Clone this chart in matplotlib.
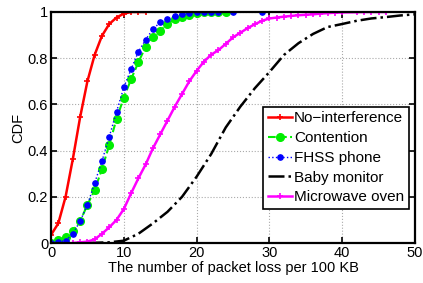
import matplotlib
matplotlib.use("Agg")
import matplotlib.pyplot as plt

plt.rcParams['font.family'] = ['Liberation Sans', 'DejaVu Sans']

red_x = list(range(0, 14))
red_y = [0.035, 0.085, 0.2, 0.364, 0.545, 0.70, 0.815, 0.897, 0.948, 0.976, 0.993, 1.0, 1.0, 1.0]

green_x = list(range(0, 25))
green_y = [0, 0.013, 0.025, 0.053, 0.095, 0.165, 0.23, 0.32, 0.425, 0.537, 0.629, 0.709,
           0.782, 0.85, 0.892, 0.919, 0.948, 0.97, 0.977, 0.987, 0.995, 0.998, 1.0, 1.0, 1.0]

blue_x = list(range(0, 24)) + [25, 29]
blue_y = [0, 0.005, 0.01, 0.04, 0.095, 0.165, 0.26, 0.355, 0.46, 0.568, 0.674, 0.752, 0.828,
          0.88, 0.926, 0.955, 0.97, 0.983, 0.99, 0.995, 0.998, 0.999, 0.999, 0.999, 1.0, 1.0]

black_x = [5, 8, 10, 12, 14, 16, 18, 20, 22, 24, 26, 28, 30, 32, 34, 36, 38, 40, 42, 44, 46, 48, 50, 52]
black_y = [0, 0.003, 0.01, 0.04, 0.085, 0.135, 0.2, 0.287, 0.385, 0.5, 0.59, 0.67, 0.74, 0.814,
           0.865, 0.905, 0.935, 0.948, 0.962, 0.972, 0.978, 0.985, 0.99, 1.0]

mag_x = list(range(3, 41)) + [42, 43, 44, 45, 46]
mag_y = [0, 0.003, 0.006, 0.016, 0.04, 0.068, 0.1, 0.147, 0.215, 0.28, 0.34, 0.41, 0.47, 0.53,
         0.59, 0.645, 0.70, 0.745, 0.785, 0.815, 0.835, 0.862, 0.89, 0.91, 0.93, 0.947, 0.962,
         0.972, 0.976, 0.98, 0.983, 0.986, 0.988, 0.99, 0.993, 0.995, 0.997, 0.998,
         0.999, 1.0, 1.0, 1.0, 1.0]

labels = ["No\u2212interference", "Contention", "FHSS phone", "Baby monitor", "Microwave oven"]

fig = plt.figure(figsize=(4.23, 2.83), dpi=100)
ax = fig.add_axes([0.1206, 0.1413, 0.8604, 0.8163])

ax.plot(red_x, red_y, color='red', lw=1.8, marker='+', ms=4, mew=1.2, label=labels[0])
ax.plot(green_x, green_y, color='#00ee00', lw=1.5, ls='--', marker='o', ms=5.5, mec='#00ee00', label=labels[1])
ax.plot(blue_x, blue_y, color='blue', lw=1.0, ls=':', marker='o', ms=3.8, label=labels[2])
ax.plot(black_x, black_y, color='black', lw=1.8, ls='-.', label=labels[3])
ax.plot(mag_x, mag_y, color='magenta', lw=1.8, marker='+', ms=4, mew=1.2, label=labels[4])

ax.set_xlim(0, 50)
ax.set_ylim(0, 1)
ax.set_xticks([0, 10, 20, 30, 40, 50])
ax.set_yticks([0, 0.2, 0.4, 0.6, 0.8, 1])
ax.set_yticklabels(['0', '0.2', '0.4', '0.6', '0.8', '1'])
ax.tick_params(direction='in', labelsize=10.5, length=4, width=1.2, top=True, right=True, pad=2)
ax.grid(True, ls=':', color='#aaaaaa', lw=0.8)
for s in ax.spines.values():
    s.set_linewidth(1.6)
ax.set_xlabel("The number of packet loss per 100 KB", fontsize=10.5, labelpad=1)
ax.set_ylabel("CDF", fontsize=10.5, labelpad=2)

leg = ax.legend(loc='lower right', bbox_to_anchor=(0.9835, 0.147), fontsize=11, frameon=True,
                fancybox=False, edgecolor='black', framealpha=1, handlelength=1.6,
                borderpad=0.3, labelspacing=0.38, handletextpad=0.15, borderaxespad=0)
leg.get_frame().set_linewidth(1.2)

fig.savefig("out.png", dpi=100)
